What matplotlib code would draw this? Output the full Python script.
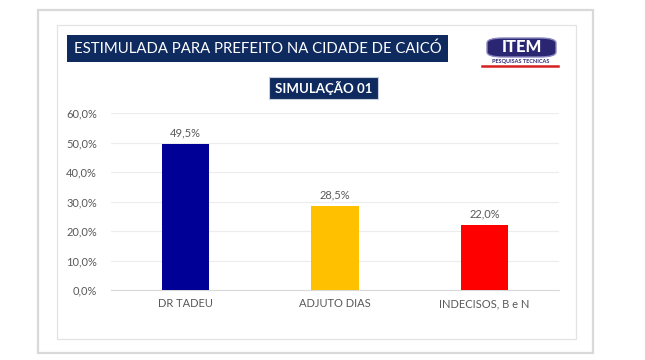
#! /usr/bin/env python

import numpy as np
import matplotlib.pyplot as plt
from matplotlib.patches import Rectangle, FancyBboxPatch

##
## Data
##
candidates = ['DR TADEU', 'ADJUTO DIAS', 'INDECISOS, B e N']
votes = [49.5, 28.5, 22.0]
bar_colors = ['#000096', '#ffc000', '#ff0000']
yticks = [0, 10, 20, 30, 40, 50, 60]

title = 'ESTIMULADA PARA PREFEITO NA CIDADE DE CAICÓ'
subtitle = 'SIMULAÇÃO 01'

plt.rcParams['font.family'] = ['Lato', 'DejaVu Sans']

W, H = 645, 360
fig = plt.figure(figsize=(W / 100, H / 100), dpi=100)
fig.patch.set_facecolor('white')

def box(x0, y0, x1, y1):
    # pixel coords (top-left origin) -> figure fraction
    return x0 / W, 1 - y1 / H, (x1 - x0) / W, (y1 - y0) / H

# frames
x, y, w, h = box(38, 10, 593, 353)
fig.patches.append(Rectangle((x, y), w, h, transform=fig.transFigure,
                             fill=False, ec='#d9d9d9', lw=1.6))
x, y, w, h = box(57, 25, 576, 339)
fig.patches.append(Rectangle((x, y), w, h, transform=fig.transFigure,
                             fill=False, ec='#e3e3e3', lw=0.9))

# title boxes
x, y, w, h = box(67, 35, 448, 62)
fig.patches.append(Rectangle((x, y), w, h, transform=fig.transFigure,
                             fc='#0f2a5f', ec='none'))
fig.text(x + w / 2, y + h / 2, title, color='white', fontsize=10.7,
         ha='center', va='center')
x, y, w, h = box(269, 77, 378, 99)
fig.patches.append(Rectangle((x, y), w, h, transform=fig.transFigure,
                             fc='#0f2a5f', ec='#c8cfdc', lw=0.8))
fig.text(x + w / 2, y + h / 2, subtitle, color='white', fontsize=9.5,
         fontweight='bold', ha='center', va='center')

# logo
x, y, w, h = box(487, 38, 556, 57)
fig.patches.append(FancyBboxPatch((x, y), w, h, transform=fig.transFigure,
                                  boxstyle='round,pad=0,rounding_size=0.025',
                                  fc='#2b2672', ec='#8a86c0', lw=1.0,
                                  mutation_aspect=H / W))
fig.text(x + w / 2, y + h / 2, 'ITEM', color='white', fontsize=12,
         fontweight='black', ha='center', va='center')
fig.text((488 + 553) / 2 / W, 1 - 61 / H, 'PESQUISAS TECNICAS', color='#2b2672',
         fontsize=4, fontweight='bold', ha='center', va='center')
fig.add_artist(plt.Line2D([482 / W, 558 / W], [1 - 65.5 / H, 1 - 65.5 / H],
                          transform=fig.transFigure, color='#d62020', lw=1.8))

##
## Bars
##
ax = fig.add_axes([110.75 / W, 1 - 290 / H, 448.5 / W, (290 - 113.3) / H])
pos = np.arange(len(candidates))
bars = ax.bar(pos, votes, width=0.315, color=bar_colors, zorder=3)
for b, v in zip(bars, votes):
    ax.text(b.get_x() + b.get_width() / 2, v + 1.8, ('%.1f%%' % v).replace('.', ','),
            ha='center', va='bottom', fontsize=8, color='#595959')

ax.set_xlim(-0.5, len(candidates) - 0.5)
ax.set_ylim(0, 60)
ax.set_yticks(yticks)
ax.set_yticklabels([('%.1f%%' % t).replace('.', ',') for t in yticks])
ax.set_xticks(pos)
ax.set_xticklabels(candidates)
ax.tick_params(length=0, labelsize=8, colors='#595959')
ax.tick_params(axis='y', pad=10)
ax.tick_params(axis='x', pad=6)
ax.grid(axis='y', color='#ececec', lw=0.8, zorder=0)
for s in ['top', 'right', 'left']:
    ax.spines[s].set_visible(False)
ax.spines['bottom'].set_color('#d9d9d9')

plt.savefig('out.png', dpi=100)
